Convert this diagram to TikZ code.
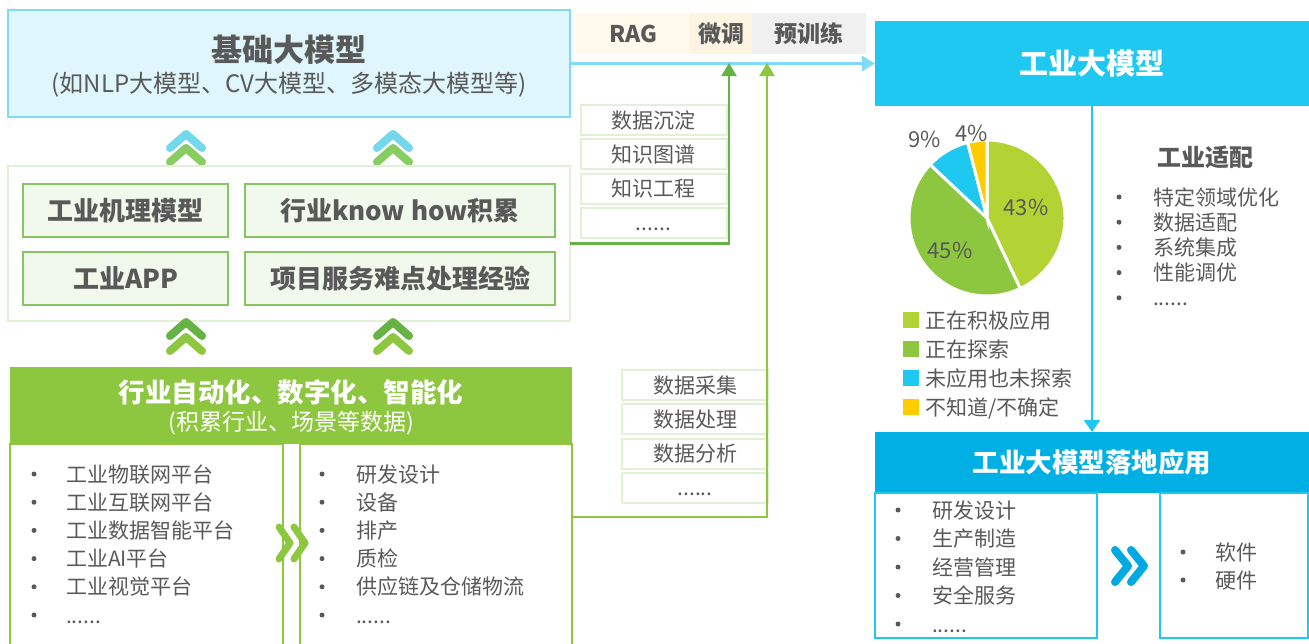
\documentclass[tikz,border=0pt]{standalone}
\usepackage{fontspec}
\setmainfont{Noto Sans CJK SC}
\usetikzlibrary{arrows.meta}
\newcommand\fsz[1]{\fontsize{#1}{#1}\selectfont}
\newcommand\sixdots{......}
\definecolor{txt}{HTML}{595959}
\definecolor{baseFill}{HTML}{DFF6FC}
\definecolor{baseLine}{HTML}{7FDAF4}
\definecolor{indBlue}{HTML}{1FC8F0}
\definecolor{landBlue}{HTML}{00B0E4}
\definecolor{chevBlue}{HTML}{00A9E2}
\definecolor{grnA}{HTML}{8DC63F}
\definecolor{grnB}{HTML}{67B245}
\definecolor{grnC}{HTML}{B3D233}
\definecolor{grnBox}{HTML}{F1F8EC}
\definecolor{grnEdge}{HTML}{86C464}
\definecolor{grnPale}{HTML}{E2F0D8}
\definecolor{upTop}{HTML}{74D8EC}
\definecolor{upBot}{HTML}{88CD62}
\definecolor{yel}{HTML}{FFCC00}
\definecolor{ragFill}{HTML}{FEF9EB}
\definecolor{tuneFill}{HTML}{FDF5E2}
\definecolor{preFill}{HTML}{F0F0F0}
\tikzset{
  every node/.style={inner sep=0pt,outer sep=0pt,text=txt},
  body/.style={font=\fsz{21},text height=18pt,text depth=2pt},
  head/.style={font=\fsz{#1}\bfseries},
  card/.style={draw=grnEdge,fill=grnBox,line width=1.5pt,minimum width=#1,minimum height=53pt},
  tag/.style={draw=grnPale,fill=white,line width=2pt,minimum width=146pt,minimum height=30pt,body},
  dot/.style={circle,fill=txt,minimum size=5pt},
  chev/.style={line width=8pt,line cap=round,line join=round},
  link/.style={line width=2.5pt,-{Triangle[length=13pt,width=15pt]}},
}
\begin{document}
\begin{tikzpicture}[x=1pt,y=-1pt]
\useasboundingbox (0,0) rectangle (1309,643);

% base models
\node[draw=baseLine,fill=baseFill,line width=2pt,minimum width=562pt,minimum height=107pt] (base) at (289,63.5) {};
\node[head=31] (baseT) at (289,50) {基础大模型};
\node[font=\fsz{24}] (baseS) at (289,85) {(如NLP大模型、CV大模型、多模态大模型等)};

\node[fill=ragFill,minimum width=114pt,minimum height=41pt,head=23] (rag) at (633,33.5) {RAG};
\node[fill=tuneFill,minimum width=62pt,minimum height=41pt,head=23] (tune) at (721,33.5) {微调};
\node[fill=preFill,minimum width=114pt,minimum height=41pt,head=23] (pre) at (809,33.5) {预训练};

\foreach \cx in {186,393}{
  \draw[chev,upTop] ({\cx-16},148) -- (\cx,134) -- ({\cx+16},148);
  \draw[chev,upBot] ({\cx-16},162) -- (\cx,148) -- ({\cx+16},162);
}

% know-how
\node[draw=grnPale,line width=2pt,minimum width=562pt,minimum height=155pt] (mid) at (289,243.5) {};
\node[card=205pt,head=26] (mech) at (125.5,210.5) {工业机理模型};
\node[card=310pt,head=26] (know) at (400,210.5) {行业know how积累};
\node[card=205pt,head=26] (app) at (125.5,278.5) {工业APP};
\node[card=310pt,head=26] (exp) at (400,278.5) {项目服务难点处理经验};

\foreach \t [count=\i] in {数据沉淀,知识图谱,知识工程,\sixdots}
  \node[tag] (kn\i) at (653.5,{120+34.3*(\i-1)}) {\t};

\foreach \cx in {186,393}{
  \draw[chev,grnB] ({\cx-16},336) -- (\cx,322) -- ({\cx+16},336);
  \draw[chev,grnA] ({\cx-16},351) -- (\cx,337) -- ({\cx+16},351);
}

% automation
\node[fill=grnA,minimum width=562pt,minimum height=77pt] (auto) at (291,405.5) {};
\node[head=26.5,text=white] (autoT) at (291,392) {行业自动化、数字化、智能化};
\node[font=\fsz{23},text=white] (autoS) at (291,423) {(积累行业、场景等数据)};
\node[draw=grnA,line width=1.5pt,minimum width=273pt,minimum height=206pt,anchor=north west] (lstL) at (10,444) {};
\node[draw=grnA,line width=1.5pt,minimum width=272pt,minimum height=206pt,anchor=north west] (lstR) at (300,444) {};
\foreach \t [count=\i] in {工业物联网平台,工业互联网平台,工业数据智能平台,工业AI平台,工业视觉平台,\sixdots}{
  \node[dot] (pb\i) at (34,{474+28.2*(\i-1)}) {};
  \node[body,anchor=west] (pl\i) at (66,{474+28.2*(\i-1)}) {\t};
}
\foreach \t [count=\i] in {研发设计,设备,排产,质检,供应链及仓储物流,\sixdots}{
  \node[dot] (sb\i) at (322,{474+28.2*(\i-1)}) {};
  \node[body,anchor=west] (sl\i) at (356,{474+28.2*(\i-1)}) {\t};
}
\draw[chev,grnA,line width=7pt] (279,527) -- (290,543) -- (279,559);
\draw[chev,grnA,line width=7pt] (294,527) -- (305,543) -- (294,559);

\foreach \t [count=\i] in {数据采集,数据处理,数据分析,\sixdots}
  \node[tag] (dp\i) at (695,{385+34.3*(\i-1)}) {\t};

% industrial model
\node[fill=indBlue,minimum width=434pt,minimum height=85pt,head=29,text=white] (ind) at (1092,63.5) {工业大模型};
\node[fill=landBlue,minimum width=434pt,minimum height=61pt,head=26.5,text=white] (land) at (1092,462.5) {工业大模型落地应用};

\coordinate (tip1) at (729,63);
\coordinate (tip2) at (767,63);
\draw[link,baseLine] (base.east) -- (ind.west);
\draw[link,grnB] (mid.east) -| (tip1);
\draw[link,grnA] (lstR.east |- 0,517) -| (tip2);
\draw[link,indBlue,-{Triangle[length=12pt,width=16pt]}] (ind.south) -- (land.north);

% pie
\begin{scope}[shift={(987,218)},yscale=-1]
  \foreach \a/\b/\c in {-64.8/90/grnC,136.8/295.2/grnA,104.4/136.8/indBlue,90/104.4/yel}
    \filldraw[fill=\c,draw=white,line width=3pt] (0,0) -- (\a:78) arc[start angle=\a,end angle=\b,radius=78] -- cycle;
\end{scope}
\node[body,font=\fsz{22}] (p43) at (1026,207) {43\%};
\node[body,font=\fsz{22}] (p45) at (950,250) {45\%};
\node[body,font=\fsz{22}] (p9) at (925,139) {9\%};
\node[body,font=\fsz{22}] (p4) at (972,133) {4\%};
\foreach \c/\t [count=\i] in {grnC/正在积极应用,grnA/正在探索,indBlue/未应用也未探索,yel/不知道\slash 不确定}{
  \node[fill=\c,minimum size=16pt] (lg\i) at (911,{320+29*(\i-1)}) {};
  \node[body,anchor=west] (lt\i) at (925,{320+29*(\i-1)}) {\t};
}

\node[head=24] (fit) at (1205,157) {工业适配};
\foreach \t [count=\i] in {特定领域优化,数据适配,系统集成,性能调优,\sixdots}{
  \node[dot] (fb\i) at (1119,{197+25.2*(\i-1)}) {};
  \node[body,anchor=west] (fl\i) at (1153,{197+25.2*(\i-1)}) {\t};
}

% landing
\node[draw=indBlue,line width=1.5pt,minimum width=222pt,minimum height=145pt,anchor=north west] (useL) at (875,493) {};
\node[draw=indBlue,line width=1.5pt,minimum width=148pt,minimum height=145pt,anchor=north west] (useR) at (1160,493) {};
\foreach \t [count=\i] in {研发设计,生产制造,经营管理,安全服务,\sixdots}{
  \node[dot] (ub\i) at (898,{510+28.5*(\i-1)}) {};
  \node[body,anchor=west] (ul\i) at (932,{510+28.5*(\i-1)}) {\t};
}
\foreach \t [count=\i] in {软件,硬件}{
  \node[dot] (hb\i) at (1183,{552+28*(\i-1)}) {};
  \node[body,anchor=west] (hl\i) at (1215,{552+28*(\i-1)}) {\t};
}
\draw[chev,chevBlue] (1115,550) -- (1128,566) -- (1115,582);
\draw[chev,chevBlue] (1131,550) -- (1144,566) -- (1131,582);
\end{tikzpicture}
\end{document}
